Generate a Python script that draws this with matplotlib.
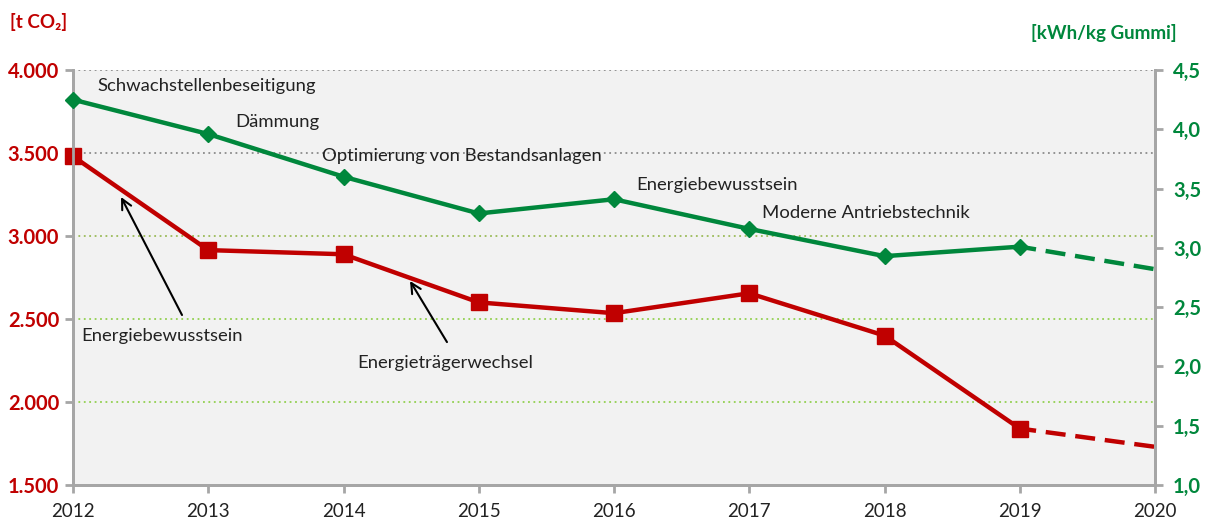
import matplotlib
matplotlib.use("Agg")
import matplotlib.pyplot as plt

plt.rcParams['font.family'] = ['Lato', 'DejaVu Sans']

years = [2012, 2013, 2014, 2015, 2016, 2017, 2018, 2019]
co2 = [3480, 2915, 2890, 2600, 2535, 2655, 2400, 1840]
kwh = [4.25, 3.96, 3.60, 3.29, 3.41, 3.16, 2.93, 3.01]
proj_years = [2019, 2020]
co2_proj = [1840, 1730]
kwh_proj = [3.01, 2.82]

left_ticks = [1500, 2000, 2500, 3000, 3500, 4000]
left_labels = ['1.500', '2.000', '2.500', '3.000', '3.500', '4.000']
right_ticks = [1.0, 1.5, 2.0, 2.5, 3.0, 3.5, 4.0, 4.5]
right_labels = ['1,0', '1,5', '2,0', '2,5', '3,0', '3,5', '4,0', '4,5']
x_ticks = [2012, 2013, 2014, 2015, 2016, 2017, 2018, 2019, 2020]
x_labels = ['2012', '2013', '2014', '2015', '2016', '2017', '2018', '2019', '2020']

RED = '#C00000'
GREEN = '#00873C'
SPINE = '#A6A6A6'

W, H = 1206, 520
fig = plt.figure(figsize=(W / 100, H / 100), dpi=100)
ax = fig.add_axes([73 / W, 1 - 485 / H, (1155 - 73) / W, (485 - 70) / H])
ax2 = ax.twinx()

ax.set_facecolor('#F2F2F2')
ax2.patch.set_visible(False)

ax.set_xlim(2012, 2020)
ax.set_ylim(1500, 4000)
ax2.set_ylim(1.0, 4.5)

# gridlines
grid_colors = {4000: '#8C8C8C', 3500: '#8C8C8C', 3000: '#9BBB59', 2500: '#92D050', 2000: '#92D050'}
for yv, c in grid_colors.items():
    ax.axhline(yv, color=c, lw=1.3, ls=(0, (1, 2)), zorder=1)

for s in ['top']:
    ax.spines[s].set_visible(False)
    ax2.spines[s].set_visible(False)
for a in (ax, ax2):
    for s in ['left', 'bottom', 'right']:
        a.spines[s].set_color(SPINE)
        a.spines[s].set_linewidth(2)

ax.set_yticks(left_ticks)
ax.set_yticklabels(left_labels, color=RED, fontweight='bold', fontsize=14.5)
ax2.set_yticks(right_ticks)
ax2.set_yticklabels(right_labels, color=GREEN, fontweight='bold', fontsize=14.5)
ax.set_xticks(x_ticks)
ax.set_xticklabels(x_labels, fontsize=13.5, color='#222222')
ax.tick_params(axis='y', length=6, width=2, color=SPINE, pad=4)
ax2.tick_params(axis='y', length=6, width=2, color=SPINE, pad=7)
ax.tick_params(axis='x', length=6, width=2, color=SPINE, pad=7)

# lines
ax.plot(years, co2, color=RED, lw=3.2, marker='s', ms=11.5, zorder=5, clip_on=False)
ax.plot(proj_years, co2_proj, color=RED, lw=3.2, ls=(0.8, (4.5, 2.2)), zorder=5, clip_on=False)
ax2.plot(years, kwh, color=GREEN, lw=3.2, marker='D', ms=8, zorder=5, clip_on=False)
ax2.plot(proj_years, kwh_proj, color=GREEN, lw=3.2, ls=(0.8, (4.5, 2.2)), zorder=5, clip_on=False)

# annotations
txt = dict(fontsize=13.3, color='#222222', va='center', ha='left', transform=ax.transData, zorder=10)
ax2.text(2012.177, 3904, 'Schwachstellenbeseitigung', **txt)
ax2.text(2013.198, 3687, 'Dämmung', **txt)
ax2.text(2013.841, 3482, 'Optimierung von Bestandsanlagen', **txt)
ax2.text(2016.163, 3307, 'Energiebewusstsein', **txt)
ax2.text(2017.094, 3139, 'Moderne Antriebstechnik', **txt)
ax2.text(2012.059, 2398, 'Energiebewusstsein', **txt)
ax2.text(2014.10, 2235, 'Energieträgerwechsel', **txt)

arrow = dict(arrowstyle='->', color='black', lw=1.5, mutation_scale=18, shrinkA=0, shrinkB=0)
ax.annotate('', xy=(2012.355, 3235), xytext=(2012.806, 2524), arrowprops=arrow, zorder=10)
ax.annotate('', xy=(2014.492, 2729), xytext=(2014.765, 2361), arrowprops=arrow, zorder=10)

# axis titles
fig.text(10 / W, 1 - 22 / H, '[t CO₂]', color=RED, fontweight='bold', fontsize=13.5, ha='left', va='center')
fig.text(1177 / W, 1 - 33 / H, '[kWh/kg Gummi]', color=GREEN, fontweight='bold', fontsize=13.5, ha='right', va='center')

fig.savefig('out.png', dpi=100)
